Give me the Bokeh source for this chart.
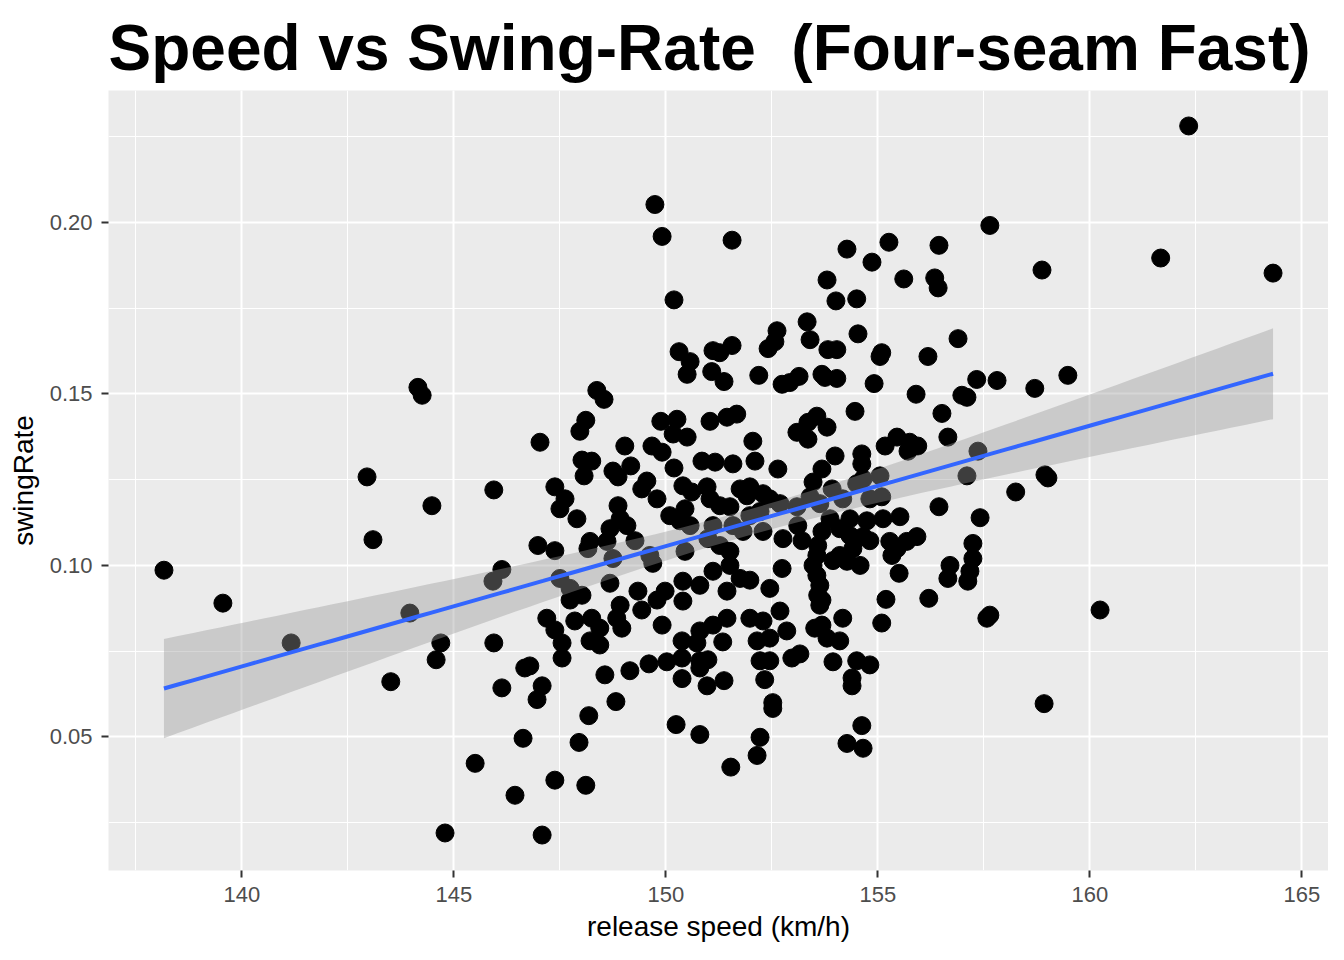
import numpy as np
from bokeh.plotting import figure
from bokeh.models import Range1d, SingleIntervalTicker, PrintfTickFormatter
from bokeh.embed import file_html
from bokeh.resources import INLINE

# release speed (km/h) and swing rate per pitcher
speed = [
    138.16, 139.55, 141.16, 142.95, 143.09, 143.51, 143.96, 144.15, 144.25, 144.48,
    144.58, 144.69, 144.79, 145.50, 145.94, 145.92, 146.13, 145.94,
    147.03, 148.11, 147.97, 149.03, 148.02, 148.25, 148.07, 148.75, 149.17, 148.87,
    149.67, 149.91, 149.88, 150.26, 150.17, 150.50, 151.04, 151.44, 151.67, 150.85,
    151.16, 151.58, 150.19, 147.38, 147.62, 147.50, 147.90, 149.55, 149.43, 149.79,
    148.87, 148.92, 148.68, 149.08, 148.61, 148.21, 149.27, 148.16, 150.40, 150.61,
    150.97, 151.75, 151.91, 150.09, 150.45, 150.33, 150.57, 151.04, 151.27, 151.51,
    151.11, 151.58, 151.82, 146.98, 147.38, 148.75, 149.62, 149.69, 150.45, 150.99,
    151.27, 151.51, 147.50, 147.74, 148.02, 147.74, 148.68, 149.34, 149.98, 149.79,
    149.43, 148.92, 148.84, 148.96, 150.40, 150.80, 151.11, 151.51, 151.75, 151.44,
    150.40, 147.19, 147.38, 147.85, 148.25, 148.44, 149.91, 150.80, 151.11, 151.44,
    149.74, 149.91, 151.56, 150.19, 150.31, 150.57, 150.50, 151.11, 151.27, 151.56,
    151.08, 151.37, 148.37, 148.54,
    157.64, 154.27, 155.26, 156.44, 154.86, 153.80, 155.61, 156.34, 156.42, 154.01,
    154.50, 153.33, 152.62, 152.57, 152.41, 153.40, 154.53, 153.82, 154.03, 155.09,
    155.05, 156.18, 156.89, 152.19, 152.74, 152.92, 153.14, 153.68, 153.75, 154.03,
    154.91, 155.90, 156.98, 157.10, 157.33, 157.81,
    153.56, 153.35, 153.80, 153.09, 153.35, 154.46, 156.51, 152.05, 152.10, 152.64,
    153.99, 154.62, 154.62, 153.68, 153.47, 153.92, 153.40, 153.63, 154.17, 154.50,
    154.65, 155.05, 155.09, 154.81, 155.17, 155.45, 155.75, 155.94, 155.71, 156.65,
    157.36, 157.10, 156.44, 157.41, 151.98, 152.29, 152.45, 152.69, 152.22, 151.98,
    153.09, 152.29, 152.76, 153.21, 153.11, 153.87, 154.34, 154.74, 155.12, 155.52,
    153.68, 153.58, 153.56, 153.47, 153.56, 153.63, 153.58, 153.63, 154.10, 154.34,
    154.65, 154.81, 154.41, 154.10, 153.94, 154.27, 154.58, 155.28, 155.45, 155.33,
    155.92, 155.68, 155.50, 156.70, 156.65, 157.24, 157.24, 157.17, 157.12, 152.74,
    151.98, 152.45, 153.68, 154.17, 153.68, 153.51, 153.80, 155.19, 155.09, 156.20,
    157.57, 157.64, 151.98, 152.29, 152.69, 152.85, 152.15, 152.45, 154.10,
    147.55, 147.55, 146.79, 146.67, 146.13, 147.08, 146.96, 148.21, 148.44, 148.56,
    149.15, 149.60, 150.02, 150.38, 150.73, 151.34, 150.38, 150.80, 150.99, 150.80,
    150.38, 150.97, 151.37, 148.82, 148.18, 146.63, 147.95, 150.24, 150.80, 151.53,
    147.38, 148.11, 146.44, 147.08,
    152.22, 152.45, 152.97, 153.16, 153.94, 154.50, 154.81, 154.39, 154.39, 152.33,
    152.52, 152.52, 152.22, 152.15, 154.62, 154.27, 154.65,
    158.25, 158.70, 158.87, 158.92, 158.94, 159.01, 159.48, 160.24, 161.67, 162.33,
    164.32,
]
swing_rate = [
    0.0986, 0.0890, 0.0774, 0.1258, 0.1075, 0.0661, 0.0861, 0.1519, 0.1496, 0.1174,
    0.0725, 0.0774, 0.0220, 0.0423, 0.1220, 0.0954, 0.0988, 0.0774,
    0.1359, 0.1423, 0.1391, 0.1348, 0.1307, 0.1304, 0.1261, 0.1275, 0.1290, 0.1258,
    0.1348, 0.1330, 0.1420, 0.1426, 0.1383, 0.1374, 0.1420, 0.1432, 0.1441, 0.1304,
    0.1301, 0.1296, 0.1284, 0.1229, 0.1194, 0.1165, 0.1136, 0.1246, 0.1223, 0.1194,
    0.1174, 0.1136, 0.1107, 0.1116, 0.1070, 0.1070, 0.1072, 0.1049, 0.1232, 0.1214,
    0.1229, 0.1223, 0.1203, 0.1145, 0.1165, 0.1130, 0.1116, 0.1194, 0.1174, 0.1171,
    0.1116, 0.1116, 0.1099, 0.1058, 0.1043, 0.1020, 0.1029, 0.1006, 0.1041, 0.1078,
    0.1058, 0.1041, 0.0962, 0.0933, 0.0913, 0.0899, 0.0948, 0.0925, 0.0925, 0.0899,
    0.0870, 0.0884, 0.0846, 0.0817, 0.0954, 0.0942, 0.0983, 0.1000, 0.0962, 0.0925,
    0.0896, 0.0846, 0.0812, 0.0838, 0.0846, 0.0817, 0.0826, 0.0809, 0.0826, 0.0846,
    0.2052, 0.1959, 0.1948, 0.1774, 0.1623, 0.1594, 0.1557, 0.1626, 0.1620, 0.1641,
    0.1565, 0.1536, 0.1510, 0.1484,
    0.1991, 0.1922, 0.1942, 0.1933, 0.1884, 0.1832, 0.1835, 0.1838, 0.1809, 0.1771,
    0.1777, 0.1710, 0.1684, 0.1652, 0.1632, 0.1658, 0.1675, 0.1629, 0.1629, 0.1620,
    0.1609, 0.1609, 0.1661, 0.1554, 0.1528, 0.1533, 0.1551, 0.1557, 0.1548, 0.1545,
    0.1530, 0.1499, 0.1496, 0.1490, 0.1542, 0.1539,
    0.1435, 0.1417, 0.1403, 0.1388, 0.1368, 0.1449, 0.1443, 0.1362, 0.1304, 0.1281,
    0.1319, 0.1325, 0.1296, 0.1281, 0.1243, 0.1223, 0.1200, 0.1180, 0.1194, 0.1238,
    0.1252, 0.1261, 0.1200, 0.1194, 0.1348, 0.1374, 0.1359, 0.1348, 0.1333, 0.1374,
    0.1333, 0.1261, 0.1171, 0.1139, 0.1229, 0.1209, 0.1194, 0.1180, 0.1157, 0.1145,
    0.1171, 0.1099, 0.1078, 0.1072, 0.1116, 0.1136, 0.1136, 0.1130, 0.1136, 0.1142,
    0.1099, 0.1058, 0.1029, 0.1000, 0.0971, 0.0942, 0.0913, 0.0884, 0.1107, 0.1087,
    0.1084, 0.1072, 0.1049, 0.1029, 0.1014, 0.1012, 0.1000, 0.1070, 0.1049, 0.1029,
    0.1084, 0.1070, 0.0977, 0.1000, 0.0962, 0.1064, 0.1020, 0.0983, 0.0954, 0.0991,
    0.0957, 0.0933, 0.0899, 0.0846, 0.0826, 0.0817, 0.0788, 0.0901, 0.0832, 0.0904,
    0.0846, 0.0855, 0.0846, 0.0838, 0.0867, 0.0809, 0.0780, 0.0788, 0.0780,
    0.0774, 0.0730, 0.0707, 0.0701, 0.0643, 0.0649, 0.0609, 0.0780, 0.0768, 0.0681,
    0.0693, 0.0713, 0.0719, 0.0780, 0.0774, 0.0777, 0.0730, 0.0722, 0.0725, 0.0701,
    0.0670, 0.0649, 0.0664, 0.0603, 0.0562, 0.0496, 0.0484, 0.0536, 0.0507, 0.0412,
    0.0374, 0.0359, 0.0330, 0.0214,
    0.0722, 0.0722, 0.0730, 0.0742, 0.0719, 0.0722, 0.0710, 0.0672, 0.0649, 0.0667,
    0.0600, 0.0583, 0.0499, 0.0446, 0.0533, 0.0481, 0.0467,
    0.1214, 0.1516, 0.1861, 0.0597, 0.1264, 0.1255, 0.1554, 0.0870, 0.1896, 0.2281,
    0.1852,
]

# double space in the original title, kept with a no-break space
title = "Speed vs Swing-Rate \u00a0(Four-seam Fast)"
font = "Liberation Sans"

x = np.array(speed)
y = np.array(swing_rate)

# linear fit with 95% confidence band, like geom_smooth(method = "lm")
n = len(x)
slope, intercept = np.polyfit(x, y, 1)
resid = y - (slope * x + intercept)
s = np.sqrt(np.sum(resid ** 2) / (n - 2))
sxx = np.sum((x - x.mean()) ** 2)
xs = np.linspace(x.min(), x.max(), 80)
fit = slope * xs + intercept
half = 1.968 * s * np.sqrt(1.0 / n + (xs - x.mean()) ** 2 / sxx)

# ggplot style 5% padding
xpad = (x.max() - x.min()) * 0.05
ypad = (y.max() - y.min()) * 0.05

p = figure(
    width=1328,
    height=944,
    x_range=Range1d(x.min() - xpad, x.max() + xpad),
    y_range=Range1d(y.min() - ypad, y.max() + ypad),
    x_axis_label="release speed (km/h)",
    y_axis_label="swingRate",
    title=title,
    output_backend="svg",
    toolbar_location=None,
    min_border_left=108,
    min_border_right=0,
    min_border_top=90,
    min_border_bottom=72,
)

p.background_fill_color = "#EBEBEB"
p.border_fill_color = "white"
p.outline_line_color = None

p.title.text_font = font
p.title.text_font_size = "64px"
p.title.text_font_style = "bold"
p.title.text_color = "black"
p.title.offset = 0
p.title.standoff = 13

p.xaxis.ticker = SingleIntervalTicker(interval=5, num_minor_ticks=2)
p.yaxis.ticker = SingleIntervalTicker(interval=0.05, num_minor_ticks=2)
p.xaxis.formatter = PrintfTickFormatter(format="%d")
p.yaxis.formatter = PrintfTickFormatter(format="%.2f")

for ax in p.axis:
    ax.axis_line_color = None
    ax.major_tick_in = 0
    ax.major_tick_out = 7
    ax.major_tick_line_color = "#333333"
    ax.major_tick_line_width = 2
    ax.minor_tick_line_color = None
    ax.major_label_text_font = font
    ax.major_label_text_font_size = "22px"
    ax.major_label_text_color = "#4D4D4D"
    ax.axis_label_text_font = font
    ax.axis_label_text_font_size = "28px"
    ax.axis_label_text_font_style = "normal"
    ax.axis_label_text_color = "black"

p.xaxis.major_label_standoff = 9
p.yaxis.major_label_standoff = 9
p.xaxis.axis_label_standoff = 6
p.yaxis.axis_label_standoff = 8

for g in (p.xgrid, p.ygrid):
    g.grid_line_color = "white"
    g.grid_line_width = 2
    g.minor_grid_line_color = "white"
    g.minor_grid_line_width = 1

p.scatter(x, y, size=18, color="black")
p.varea(x=xs, y1=fit - half, y2=fit + half, fill_color="#999999", fill_alpha=0.4)
p.line(xs, fit, line_color="#3366FF", line_width=4)

open("out.html", "w").write(file_html(p, INLINE))
